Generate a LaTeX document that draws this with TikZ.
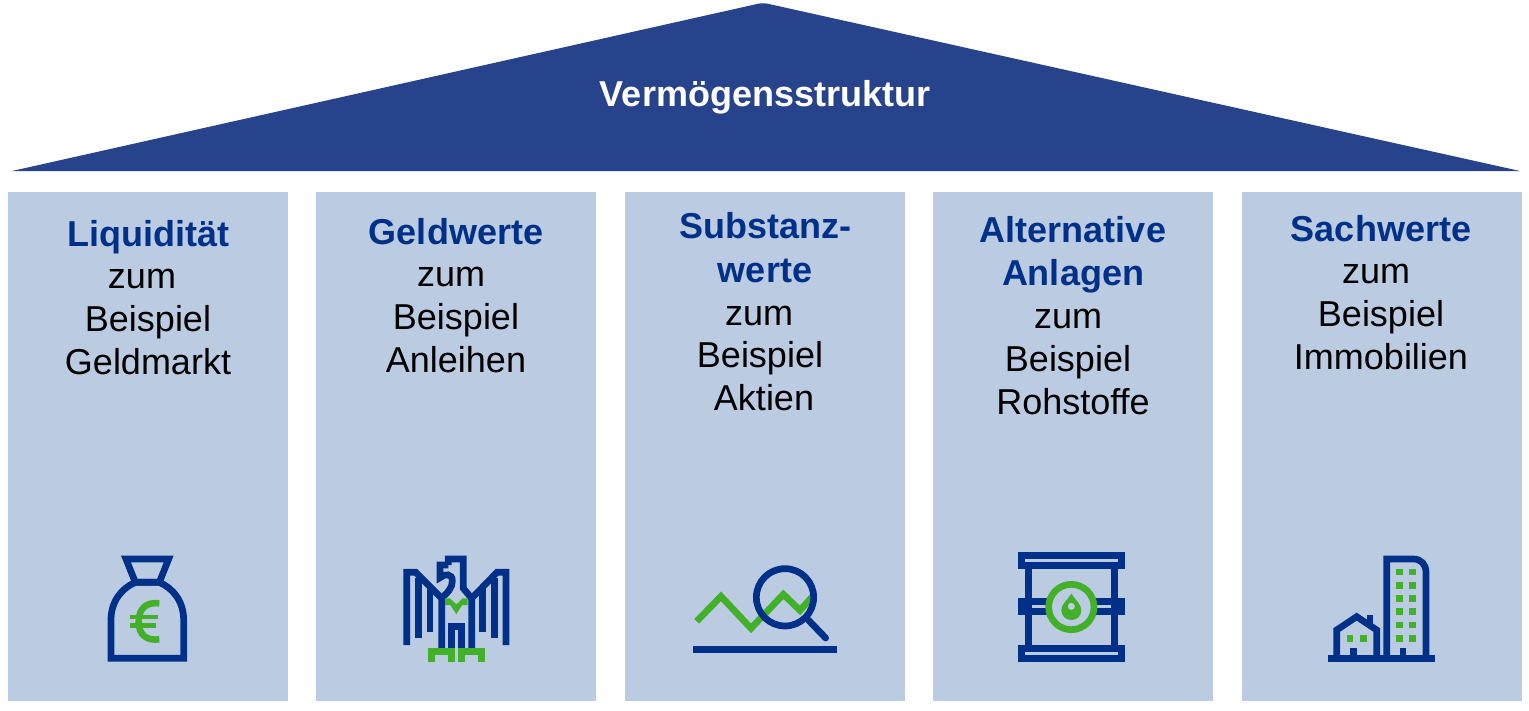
\documentclass[tikz,border=0pt]{standalone}
\usepackage{fontspec}
\setmainfont{Liberation Sans}
\definecolor{roofc}{HTML}{27438C}
\definecolor{colc}{HTML}{BBCCE2}
\definecolor{navyc}{HTML}{003087}
\definecolor{greenc}{HTML}{43B02A}
\tikzset{
  pillar/.style={fill=colc,draw=none},
  head/.style={font=\fontsize{36}{43}\selectfont\bfseries,text=navyc,anchor=base,inner sep=0pt},
  body/.style={font=\fontsize{36}{43}\selectfont,text=black,anchor=base,inner sep=0pt},
  bl/.style={draw=navyc,line width=6.7pt,miter limit=10},
  gr/.style={draw=greenc,line width=6.7pt,miter limit=10},
  bf/.style={fill=navyc,draw=none},
  gf/.style={fill=greenc,draw=none},
  zoomA/.style={x=0.33333pt,y=-0.33333pt}
}
\begin{document}
\begin{tikzpicture}[x=1pt,y=-1pt]
\useasboundingbox (0,0) rectangle (1529,710);
% roof
\fill[roofc] (12,171) -- (757,4) .. controls (761,3) and (765,3) .. (769,4) -- (1520,171) -- cycle;
\node[font=\fontsize{36}{43}\selectfont\bfseries,text=white,anchor=base,inner sep=0pt] (title) at (765,106) {Vermögensstruktur};
% pillars
\fill[pillar] (8,192) rectangle (288,701);
\fill[pillar] (316,192) rectangle (596,701);
\fill[pillar] (625,192) rectangle (905,701);
\fill[pillar] (933,192) rectangle (1213,701);
\fill[pillar] (1242,192) rectangle (1522,701);
% texts
\node[head] (a1) at (148,246) {Liquidität};
\node[body] (a2) at (142,288) {zum};
\node[body] (a3) at (148,331) {Beispiel};
\node[body] (a4) at (148,374) {Geldmarkt};
\node[head] (b1) at (456,244) {Geldwerte};
\node[body] (b2) at (451,286) {zum};
\node[body] (b3) at (456,329) {Beispiel};
\node[body] (b4) at (456,372) {Anleihen};
\node[head] (c1) at (765,238) {Substanz-};
\node[head] (c2) at (765,282) {werte};
\node[body] (c3) at (759,325) {zum};
\node[body] (c4) at (760,367) {Beispiel};
\node[body] (c5) at (764,410) {Aktien};
\node[head] (d1) at (1073,242) {Alternative};
\node[head] (d2) at (1073,285) {Anlagen};
\node[body] (d3) at (1068,328) {zum};
\node[body] (d4) at (1068,371) {Beispiel};
\node[body] (d5) at (1073,414) {Rohstoffe};
\node[head] (e1) at (1381,241) {Sachwerte};
\node[body] (e2) at (1376,283) {zum};
\node[body] (e3) at (1381,326) {Beispiel};
\node[body] (e4) at (1381,369) {Immobilien};
% money bag
\begin{scope}[shift={(90,540)},zoomA]
\draw[bl] (108,57) -- (236,57) -- (208,127) -- (136,127) -- cycle;
\draw[bl] (63,355) -- (281,355) -- (281,240) .. controls (281,185) and (250,145) .. (208,127) -- (136,127) .. controls (94,145) and (63,185) .. (63,240) -- cycle;
\draw[draw=greenc,line width=6.5pt] (208,190) .. controls (170,185) and (146,205) .. (146,245) .. controls (146,285) and (170,303) .. (208,298);
\fill[gf] (120,224) rectangle (203,237);
\fill[gf] (120,250) rectangle (198,263);
\end{scope}
% eagle
\begin{scope}[shift={(395,545)},zoomA]
\draw[bl] (35,300) -- (35,82) -- (62,82) -- (140,160) -- (140,310);
\draw[bl] (70,280) -- (70,100);
\draw[bl] (105,260) -- (105,125);
\draw[bl] (333,300) -- (333,82) -- (306,82) -- (230,160) -- (230,310);
\draw[bl] (298,280) -- (298,100);
\draw[bl] (263,260) -- (263,125);
\draw[bl] (160,60) -- (160,42) -- (205,42) -- (205,130) -- (230,160);
\draw[bl] (160,60) -- (135,60) -- (135,98) .. controls (150,85) and (172,85) .. (172,108) .. controls (172,128) and (160,140) .. (140,160);
\draw[bl] (170,310) -- (170,245) -- (200,245) -- (200,310);
\fill[gf] (150,160) -- (165,160) -- (184,178) -- (203,160) -- (218,160) -- (218,180) -- (202,180) -- (184,207) -- (166,180) -- (150,180) -- cycle;
\draw[gr,line join=miter] (110,350) -- (110,320) -- (170,320) -- (170,350);
\draw[gr,line join=miter] (199,350) -- (199,320) -- (260,320) -- (260,350);
\end{scope}
% chart and magnifier
\begin{scope}[shift={(685,555)},zoomA]
\fill[bf] (24,272) rectangle (456,294);
\draw[gr] (35,199) -- (108,124) -- (198,220) -- (295,118) -- (345,166) -- (382,125);
\draw[bl] (300,127) circle[radius=86];
\draw[bl,line cap=round] (370,195) -- (422,249);
\end{scope}
% barrel
\begin{scope}[shift={(1010,545)},zoomA]
\draw[bl] (55,72) -- (55,300);
\draw[bl] (313,72) -- (313,300);
\draw[bl] (35,32) rectangle (334,62);
\draw[bl] (35,170) rectangle (334,200);
\draw[bl] (35,310) rectangle (334,340);
\draw[gr,fill=colc] (184,186) circle[radius=68];
\fill[gf,even odd rule] (184,146) .. controls (196,165) and (214,178) .. (214,195) .. controls (214,235) and (154,235) .. (154,195) .. controls (154,178) and (172,165) .. (184,146) -- cycle (184,184) circle[radius=11];
\end{scope}
% buildings
\begin{scope}[shift={(1320,545)},zoomA]
\fill[bf] (25,330) rectangle (344,350);
\draw[bl] (200,335) -- (200,42) -- (280,42) .. controls (303,42) and (318,58) .. (318,82) -- (318,335);
\fill[bf] (239,310) rectangle (259,335);
\draw[bl] (50,335) -- (50,255) -- (110,215) -- (170,255) -- (170,335);
\fill[bf] (140,210) rectangle (160,240);
\fill[bf] (90,310) rectangle (110,335);
\foreach \yy in {81,121,161,200,240,280}{
  \fill[gf] (228,\yy-10) rectangle (248,\yy+10);
  \fill[gf] (268,\yy-10) rectangle (288,\yy+10);
}
\fill[gf] (80,270) rectangle (100,290);
\fill[gf] (120,270) rectangle (140,290);
\end{scope}
\end{tikzpicture}
\end{document}
